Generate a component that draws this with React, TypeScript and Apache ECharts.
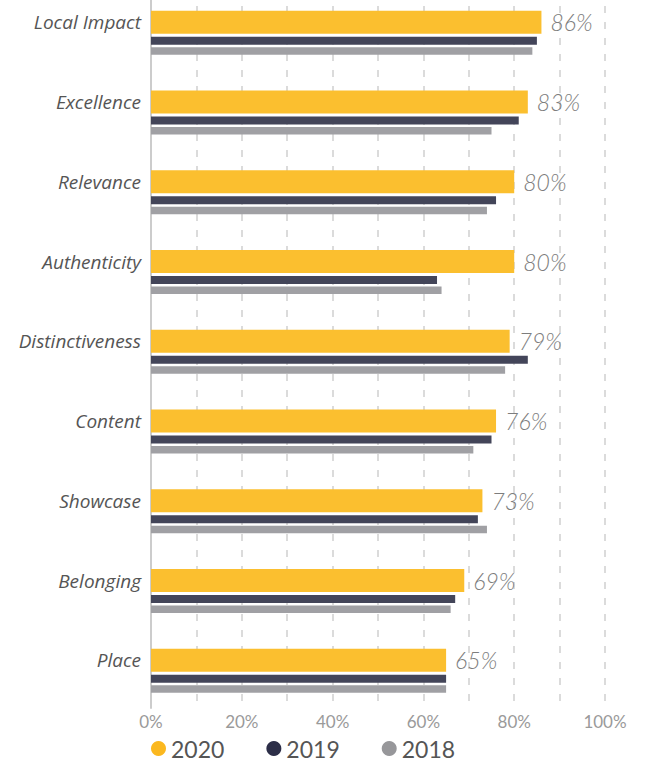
import React, { useEffect, useRef } from "react";
import * as echarts from "echarts";

const categories = [
  "Local Impact",
  "Excellence",
  "Relevance",
  "Authenticity",
  "Distinctiveness",
  "Content",
  "Showcase",
  "Belonging",
  "Place",
];
const values2020 = [86, 83, 80, 80, 79, 76, 73, 69, 65];
const values2019 = [85, 81, 76, 63, 83, 75, 72, 67, 65];
const values2018 = [84, 75, 74, 64, 78, 71, 74, 66, 65];
const seriesNames = ["2020", "2019", "2018"];
const xMin = 0;
const xMax = 100;
const xInterval = 10;
const xLabelStep = 20;

const BAND = 79.75;
const GRID_H = BAND * categories.length;
const LEFT = 151;
const WIDTH = 454;

export default function App() {
  const ref = useRef<HTMLDivElement>(null);

  useEffect(() => {
    if (!ref.current) return;
    const chart = echarts.init(ref.current, undefined, { renderer: "svg" });

    const hiddenX = (gi: number) => ({
      type: "value",
      gridIndex: gi,
      min: xMin,
      max: xMax,
      show: false,
    });
    const hiddenY = (gi: number) => ({
      type: "category",
      gridIndex: gi,
      data: categories,
      inverse: true,
      axisLine: { show: false },
      axisTick: { show: false },
      axisLabel: { show: false },
    });
    const gridBase = { left: LEFT, width: WIDTH, outerBoundsMode: "none", containLabel: false };

    const option: any = {
      animation: false,
      grid: [
        { ...gridBase, top: 22.35 - BAND / 2, height: GRID_H },
        { ...gridBase, top: 40.85 - BAND / 2, height: GRID_H },
        { ...gridBase, top: 51 - BAND / 2, height: GRID_H },
        { ...gridBase, top: -10, height: 718 },
      ],
      xAxis: [
        hiddenX(0),
        hiddenX(1),
        hiddenX(2),
        {
          type: "value",
          gridIndex: 3,
          min: xMin,
          max: xMax,
          interval: xInterval,
          axisLine: { show: false },
          axisTick: { show: false },
          axisLabel: {
            formatter: (v: number) => (v % xLabelStep === 0 ? v + "%" : ""),
            color: "#9a9a9a",
            fontSize: 17,
            fontFamily: "Lato",
            margin: 5,
          },
          splitLine: {
            show: true,
            lineStyle: { color: "#cfcfcf", width: 1.5, type: [7, 9] },
          },
        },
      ],
      yAxis: [
        {
          type: "category",
          gridIndex: 0,
          data: categories,
          inverse: true,
          axisLine: { show: false },
          axisTick: { show: false },
          axisLabel: {
            color: "#555",
            fontStyle: "italic",
            fontSize: 19,
            fontFamily: "Open Sans",
            margin: 10,
          },
        },
        hiddenY(1),
        hiddenY(2),
        {
          type: "category",
          gridIndex: 3,
          data: categories,
          inverse: true,
          axisLine: { show: true, lineStyle: { color: "#cccccc", width: 2 } },
          axisTick: { show: false },
          axisLabel: { show: false },
          splitLine: { show: false },
        },
      ],
      legend: {
        left: 151,
        top: 737,
        icon: "circle",
        itemWidth: 15,
        itemHeight: 15,
        itemGap: 42,
        padding: 0,
        textStyle: { color: "#555", fontSize: 23, fontFamily: "Lato" },
        data: [
          { name: seriesNames[0], itemStyle: { color: "#FBB81F" } },
          { name: seriesNames[1], itemStyle: { color: "#2C2E48" } },
          { name: seriesNames[2], itemStyle: { color: "#97979A" } },
        ],
      },
      series: [
        {
          name: seriesNames[0],
          type: "bar",
          xAxisIndex: 0,
          yAxisIndex: 0,
          data: values2020,
          barWidth: 23,
          itemStyle: { color: "#FBBF2F" },
          label: {
            show: true,
            position: "right",
            distance: 9,
            formatter: "{c}%",
            color: "#7d7d7d",
            fontSize: 23,
            fontStyle: "italic",
            fontWeight: 300,
            fontFamily: "Lato",
          },
        },
        {
          name: seriesNames[1],
          type: "bar",
          xAxisIndex: 1,
          yAxisIndex: 1,
          data: values2019,
          barWidth: 8,
          itemStyle: { color: "#434559" },
        },
        {
          name: seriesNames[2],
          type: "bar",
          xAxisIndex: 2,
          yAxisIndex: 2,
          data: values2018,
          barWidth: 7.5,
          itemStyle: { color: "#A0A0A4" },
        },
      ],
    };

    chart.setOption(option);
    return () => chart.dispose();
  }, []);

  return (
    <div
      ref={ref}
      style={{ position: "fixed", left: 0, top: 0, width: 645, height: 767, background: "#fff" }}
    />
  );
}
